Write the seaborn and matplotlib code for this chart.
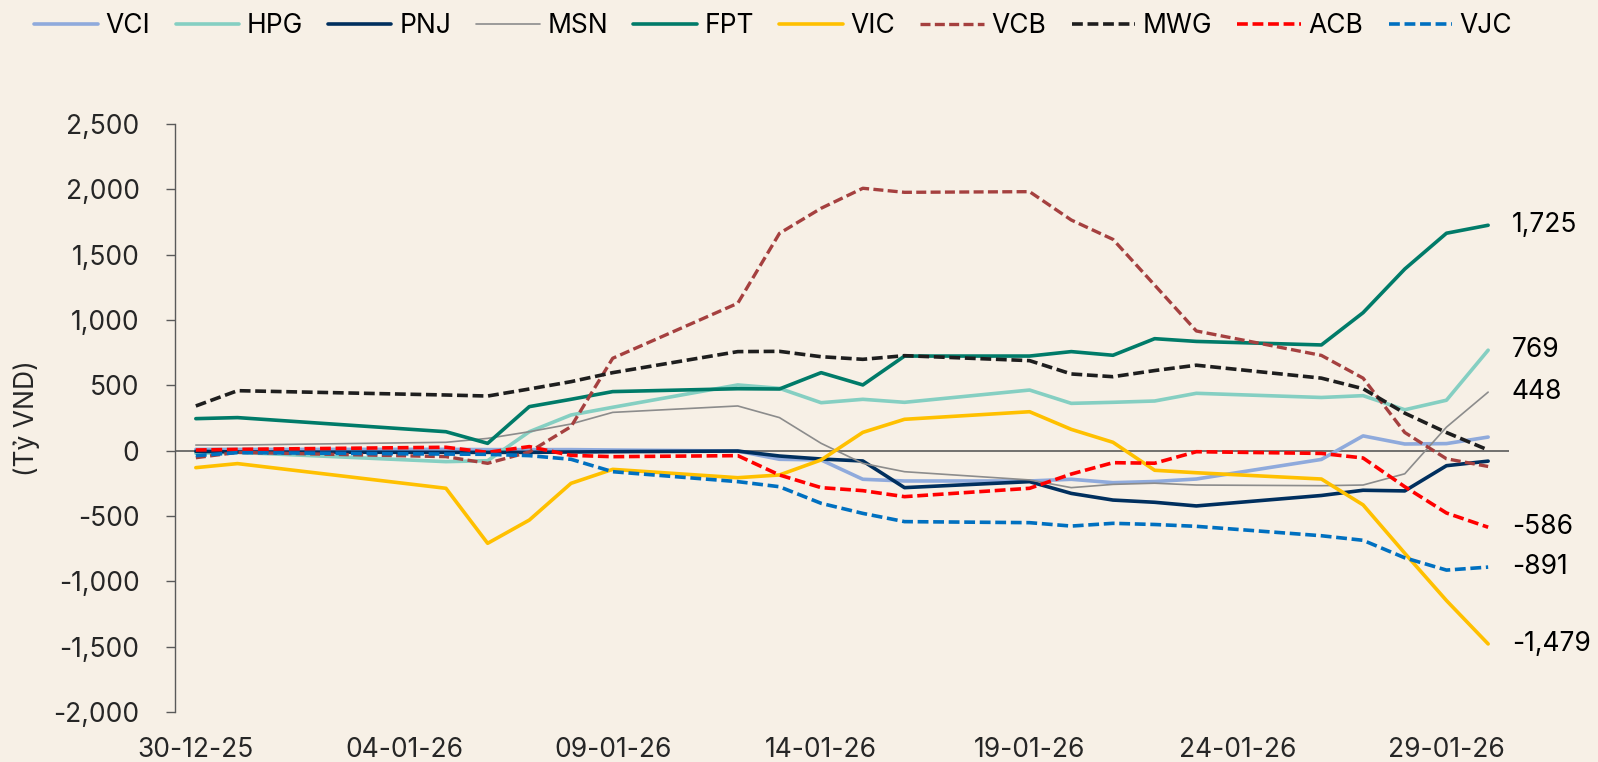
import pandas as pd
import numpy as np
import seaborn as sns
import matplotlib.pyplot as plt
import matplotlib.dates as mdates
from matplotlib.ticker import FuncFormatter

# trading days shown on the chart
dates = ['2025-12-30', '2025-12-31', '2026-01-05', '2026-01-06', '2026-01-07',
         '2026-01-08', '2026-01-09', '2026-01-12', '2026-01-13', '2026-01-14',
         '2026-01-15', '2026-01-16', '2026-01-19', '2026-01-20', '2026-01-21',
         '2026-01-22', '2026-01-23', '2026-01-26', '2026-01-27', '2026-01-28',
         '2026-01-29', '2026-01-30']

# cumulative values (ty VND)
vci = [10, 10, 10, 8, 8, 8, 5, -3, -66, -71, -219, -232, -232, -219, -245, -236, -217, -67, 113, 51, 54, 104]
hpg = [-20, -13, -84, -77, 145, 273, 332, 503, 477, 367, 393, 370, 464, 362, 370, 380, 439, 407, 421, 313, 386, 769]
pnj = [-5, -10, -13, -13, -13, -10, -8, -3, -41, -64, -79, -283, -237, -327, -378, -395, -423, -343, -303, -308, -115, -80]
msn = [43, 43, 64, 94, 145, 204, 293, 342, 253, 56, -97, -161, -224, -283, -258, -249, -263, -268, -263, -177, 180, 448]
fpt = [245, 253, 145, 56, 337, 393, 452, 474, 472, 597, 503, 724, 724, 758, 730, 857, 836, 809, 1056, 1390, 1664, 1725]
vic = [-130, -99, -288, -709, -531, -250, -143, -207, -186, -71, 140, 240, 298, 163, 64, -150, -169, -217, -415, -785, -1147, -1479]
vcb = [-54, -13, -46, -97, -10, 184, 707, 1128, 1663, 1855, 2008, 1977, 1982, 1765, 1617, 1267, 916, 729, 555, 139, -62, -121]
mwg = [342, 459, 426, 418, 472, 528, 597, 758, 760, 719, 699, 727, 689, 587, 566, 613, 654, 555, 474, 287, 139, 5]
acb = [5, 10, 26, -13, 31, -36, -46, -38, -186, -283, -306, -352, -288, -179, -92, -96, -8, -21, -56, -276, -477, -586]
vjc = [-38, -15, -26, -28, -38, -66, -161, -237, -276, -403, -480, -543, -551, -577, -556, -565, -579, -651, -686, -820, -914, -891]

tickers = ['VCI', 'HPG', 'PNJ', 'MSN', 'FPT', 'VIC', 'VCB', 'MWG', 'ACB', 'VJC']
series = [vci, hpg, pnj, msn, fpt, vic, vcb, mwg, acb, vjc]
labelled = ['FPT', 'HPG', 'MSN', 'ACB', 'VJC', 'VIC']

colors = {'VCI': '#8FAADC', 'HPG': '#85CFC2', 'PNJ': '#002F5E', 'MSN': '#8C8C8C',
          'FPT': '#007B69', 'VIC': '#FFC000', 'VCB': '#A5403F', 'MWG': '#1E1E1E',
          'ACB': '#FF0000', 'VJC': '#0070C0'}
widths = {'VCI': 2.6, 'HPG': 2.6, 'PNJ': 2.6, 'MSN': 1.2, 'FPT': 2.6,
          'VIC': 2.6, 'VCB': 2.4, 'MWG': 2.6, 'ACB': 2.6, 'VJC': 2.6}
dashed = ['VCB', 'MWG', 'ACB', 'VJC']

bg = '#F7F0E6'
sns.set_theme(style='white')
plt.rcParams['font.family'] = ['Inter', 'DejaVu Sans']
plt.rcParams['text.color'] = 'black'

fig = plt.figure(figsize=(15.98, 7.62), dpi=100, facecolor=bg)
ax = fig.add_axes([0.1095, 0.0656, 0.9443 - 0.1095, 0.8373 - 0.0656])
ax.set_facecolor(bg)

x = pd.to_datetime(dates)
ax.axhline(0, color='#5A5A5A', lw=1.2, zorder=1)

#draw each ticker
for name, vals in zip(tickers, series):
    ls = (0, (3, 1.3)) if name in dashed else '-'
    sns.lineplot(x=x, y=vals, ax=ax, color=colors[name], linewidth=widths[name],
                 linestyle=ls, label=name, zorder=3)
    if name in labelled:
        ax.annotate('{:,.0f}'.format(vals[-1]), xy=(x[-1], vals[-1]), xytext=(17, 0),
                    textcoords='offset points', va='center', ha='left',
                    fontsize=19, annotation_clip=False)

ax.set_ylim(-2000, 2500)
ax.set_yticks(np.arange(-2000, 2501, 500))
ax.yaxis.set_major_formatter(FuncFormatter(lambda v, p: '{:,.0f}'.format(v)))
ax.set_xlim(x[0] - pd.Timedelta(hours=12), x[-1] + pd.Timedelta(hours=12))
ax.set_xticks(pd.date_range('2025-12-30', '2026-01-29', freq='5D'))
ax.xaxis.set_major_formatter(mdates.DateFormatter('%d-%m-%y'))

for s in ['top', 'right', 'bottom']:
    ax.spines[s].set_visible(False)
ax.spines['left'].set_color('#5A5A5A')
ax.spines['left'].set_linewidth(1.0)
ax.tick_params(axis='y', length=6.5, width=1, color='#5A5A5A', pad=19, labelsize=19, left=True)
ax.tick_params(axis='x', length=0, pad=18, labelsize=19)
ax.set_xlabel('')
ax.set_ylabel('(Tỷ VND)', fontsize=19, labelpad=10)

handles, labels = ax.get_legend_handles_labels()
ax.get_legend().remove()
fig.legend(handles, labels, loc='center', bbox_to_anchor=(0.484, 0.966), ncol=10,
           frameon=False, fontsize=19, handlelength=2.4, handletextpad=0.3,
           columnspacing=0.95)

plt.savefig('out.png', dpi=100, facecolor=bg)
